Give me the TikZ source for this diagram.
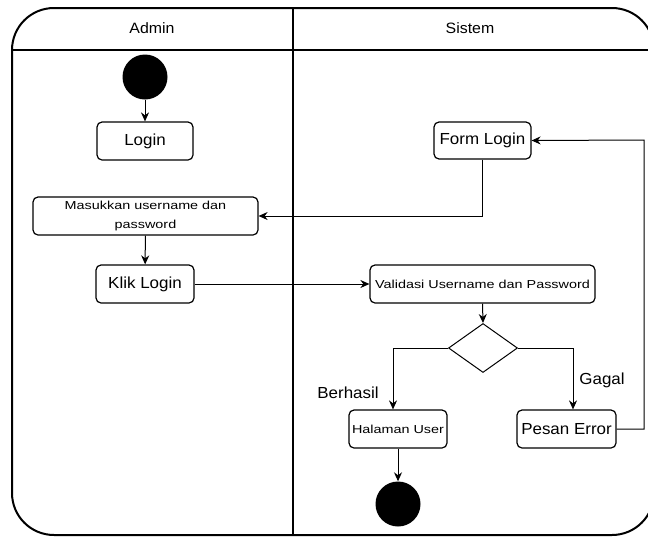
\documentclass[tikz,border=0pt]{standalone}
\usepackage{fontspec}
\setmainfont{Liberation Sans}
\newfontfamily\bigfont{Liberation Sans}[FakeStretch=1.06]
\newfontfamily\smallfont{Liberation Sans}[FakeStretch=1.24]
\usetikzlibrary{shapes.geometric,arrows.meta}
\tikzset{
  actbox/.style={draw, rounded corners=5pt, line width=1.2pt, inner sep=0pt, align=center},
  bigtxt/.style={font=\bigfont\fontsize{16}{18}\selectfont},
  smalltxt/.style={font=\smallfont\fontsize{11.6}{19.5}\selectfont},
  dot/.style={circle, fill=black, minimum size=45pt, inner sep=0pt},
  flow/.style={line width=1pt, -{Stealth[length=9pt,width=8pt]}},
}
\begin{document}
\begin{tikzpicture}[x=1pt, y=-1pt]
  \useasboundingbox (0,0) rectangle (648,536);
  % Swimlanes
  \draw[line width=2pt, rounded corners=42pt] (12,8) rectangle (654,535);
  \draw[line width=2pt] (12,50) -- (654,50);
  \draw[line width=2pt] (293,8) -- (293,535);
  \node[font=\bigfont\fontsize{15}{17}\selectfont] (admin) at (152,28) {Admin};
  \node[font=\bigfont\fontsize{15}{17}\selectfont] (sistem) at (470,28) {Sistem};
  % Admin
  \node[dot] (start) at (145,77) {};
  \node[actbox, bigtxt, minimum width=96pt, minimum height=38pt] (login) at (145,141) {Login};
  \node[actbox, smalltxt, minimum width=225pt, minimum height=38pt] (masukkan) at (145.5,216)
    {Masukkan username dan\\password};
  \node[actbox, bigtxt, minimum width=98pt, minimum height=38pt] (kliklogin) at (145,284) {Klik Login};
  % Sistem
  \node[actbox, bigtxt, minimum width=97pt, minimum height=37pt] (formlogin) at (482.5,140.5) {Form Login};
  \node[actbox, smalltxt, minimum width=225pt, minimum height=38pt] (validasi) at (482.5,284)
    {Validasi Username dan Password};
  \node[draw, diamond, line width=1pt, minimum width=69pt, minimum height=49pt, inner sep=0pt] (cek) at (483,348) {};
  \node[actbox, smalltxt, minimum width=98pt, minimum height=38pt] (halaman) at (398,429) {Halaman User};
  \node[actbox, bigtxt, minimum width=99pt, minimum height=38pt] (pesan) at (566.5,429) {Pesan Error};
  \node[dot] (finish) at (398,504) {};
  \node[bigtxt] (berhasil) at (348,393) {Berhasil};
  \node[bigtxt] (gagal) at (602,380) {Gagal};
  \coordinate (balik) at (644,140);
  % Alur
  \draw[flow] (start) -- (login);
  \draw[flow] (masukkan) -- (kliklogin);
  \draw[flow] (formlogin.south) |- (masukkan.east);
  \draw[flow] (kliklogin.east) -- (validasi.west);
  \draw[flow] (validasi.south) -- (cek.north);
  \draw[flow] (cek.west) -| ([xshift=-5pt]halaman.north);
  \draw[flow] (cek.east) -| ([xshift=6.5pt]pesan.north);
  \draw[flow] (pesan.east) -| (balik) -- (formlogin.east);
  \draw[flow] (halaman) -- (finish);
\end{tikzpicture}
\end{document}
